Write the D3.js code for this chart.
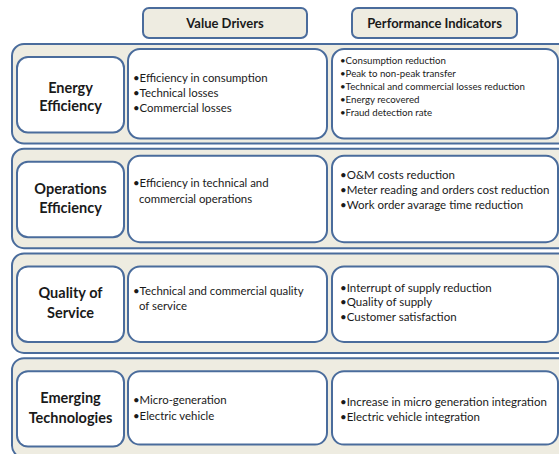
<!DOCTYPE html>
<html>
<head>
<meta charset="utf-8">
<script src="https://cdn.jsdelivr.net/npm/d3@7"></script>
<style>
  html, body { margin: 0; padding: 0; background: #ffffff; }
  svg { display: block; }
</style>
</head>
<body>
<svg id="chart" width="559" height="454"></svg>
<script>
// ---------------- data ----------------
const headers = ["Value Drivers", "Performance Indicators"];
const categories = ["Energy Efficiency", "Operations Efficiency", "Quality of Service", "Emerging Technologies"];
const categoryLines = [["Energy", "Efficiency"], ["Operations", "Efficiency"], ["Quality of", "Service"], ["Emerging", "Technologies"]];
const valueDrivers = [
  ["Efficiency in consumption", "Technical losses", "Commercial losses"],
  [["Efficiency in technical and", "commercial operations"]],
  [["Technical and commercial quality", "of service"]],
  ["Micro-generation", "Electric vehicle"]
];
const performanceIndicators = [
  ["Consumption reduction", "Peak to non-peak transfer", "Technical and commercial losses reduction", "Energy recovered", "Fraud detection rate"],
  ["O&M costs reduction", "Meter reading and orders cost reduction", "Work order avarage time reduction"],
  ["Interrupt of supply reduction", "Quality of supply", "Customer satisfaction"],
  ["Increase in micro generation integration", "Electric vehicle integration"]
];

// ---------------- layout / style ----------------
const FILL_BG = "#eeece1";
const STROKE = "#4a6c9c";
const TEXT = "#1a1a1a";
const FONT = "Lato, 'Open Sans', sans-serif";

const svg = d3.select("#chart");

const rowScale = d3.scaleBand().domain(categories).range([44, 457.6]).paddingInner(0.05).paddingOuter(0);
const colX = { outer: [12, 580], cat: [17, 124], val: [128, 327], perf: [332, 558] };
const headerBoxes = [[143, 307], [352, 517]];

// per-row inner layout (offsets from band top)
const rowLayout = [
  { boxTop: 5,  boxBot: 5,  valY: 34,   valStep: 15, perfY: 17,   perfStep: 12.8, perfSize: 9.7,  catY: 53,   catStep: 18 },
  { boxTop: 7,  boxBot: 6,  valY: 34.5, valStep: 16, perfY: 26.5, perfStep: 15,   perfSize: 11.5, catY: 50,   catStep: 19 },
  { boxTop: 13, boxBot: 11, valY: 37.5, valStep: 15, perfY: 34.5, perfStep: 14.5, perfSize: 11.5, catY: 49.6, catStep: 20 },
  { boxTop: 13, boxBot: 13, valY: 42,   valStep: 16, perfY: 44,   perfStep: 15,   perfSize: 11.5, catY: 50,   catStep: 20 }
];

// headers
const hdr = svg.append("g");
headers.forEach((h, i) => {
  const [x0, x1] = headerBoxes[i];
  hdr.append("rect").attr("x", x0).attr("y", 8).attr("width", x1 - x0).attr("height", 30)
    .attr("rx", 6).attr("fill", FILL_BG).attr("stroke", STROKE).attr("stroke-width", 2);
  hdr.append("text").attr("x", (x0 + x1) / 2).attr("y", 23).attr("dy", "0.35em")
    .attr("text-anchor", "middle").attr("font-family", FONT).attr("font-weight", "bold")
    .attr("font-size", 13).attr("fill", TEXT).text(h);
});

function drawItems(g, items, x, bx, y0, step, size) {
  let line = 0;
  items.forEach(item => {
    const lines = Array.isArray(item) ? item : [item];
    lines.forEach((t, k) => {
      const y = y0 + line * step;
      g.append("text").attr("x", k === 0 ? bx : x).attr("y", y).attr("dy", "0.35em")
        .attr("font-family", FONT).attr("font-size", size).attr("fill", TEXT)
        .text(k === 0 ? "•" + t : t);
      line++;
    });
  });
}

categories.forEach((c, i) => {
  const y0 = rowScale(c), h = rowScale.bandwidth();
  const L = rowLayout[i];
  const g = svg.append("g");
  g.append("rect").attr("x", colX.outer[0]).attr("y", y0).attr("width", colX.outer[1] - colX.outer[0]).attr("height", h)
    .attr("rx", 12).attr("fill", FILL_BG).attr("stroke", STROKE).attr("stroke-width", 2);
  g.append("rect").attr("x", colX.cat[0]).attr("y", y0 + 13).attr("width", colX.cat[1] - colX.cat[0]).attr("height", h - 24)
    .attr("rx", 11).attr("fill", "#fff").attr("stroke", STROKE).attr("stroke-width", 2);
  ["val", "perf"].forEach(k => {
    g.append("rect").attr("x", colX[k][0]).attr("y", y0 + L.boxTop).attr("width", colX[k][1] - colX[k][0])
      .attr("height", h - L.boxTop - L.boxBot).attr("rx", 12).attr("fill", "#fff").attr("stroke", STROKE).attr("stroke-width", 2);
  });
  const cl = categoryLines[i];
  const cy = y0 + L.catY - (cl.length - 1) * L.catStep / 2;
  cl.forEach((t, k) => {
    g.append("text").attr("x", (colX.cat[0] + colX.cat[1]) / 2).attr("y", cy + k * L.catStep).attr("dy", "0.35em")
      .attr("text-anchor", "middle").attr("font-family", FONT).attr("font-weight", "bold")
      .attr("font-size", 14.5).attr("fill", TEXT).text(t);
  });
  drawItems(g, valueDrivers[i], 139, 133, y0 + L.valY, L.valStep, 11.4);
  drawItems(g, performanceIndicators[i], 345, 340, y0 + L.perfY, L.perfStep, L.perfSize);
});
</script>
</body>
</html>
